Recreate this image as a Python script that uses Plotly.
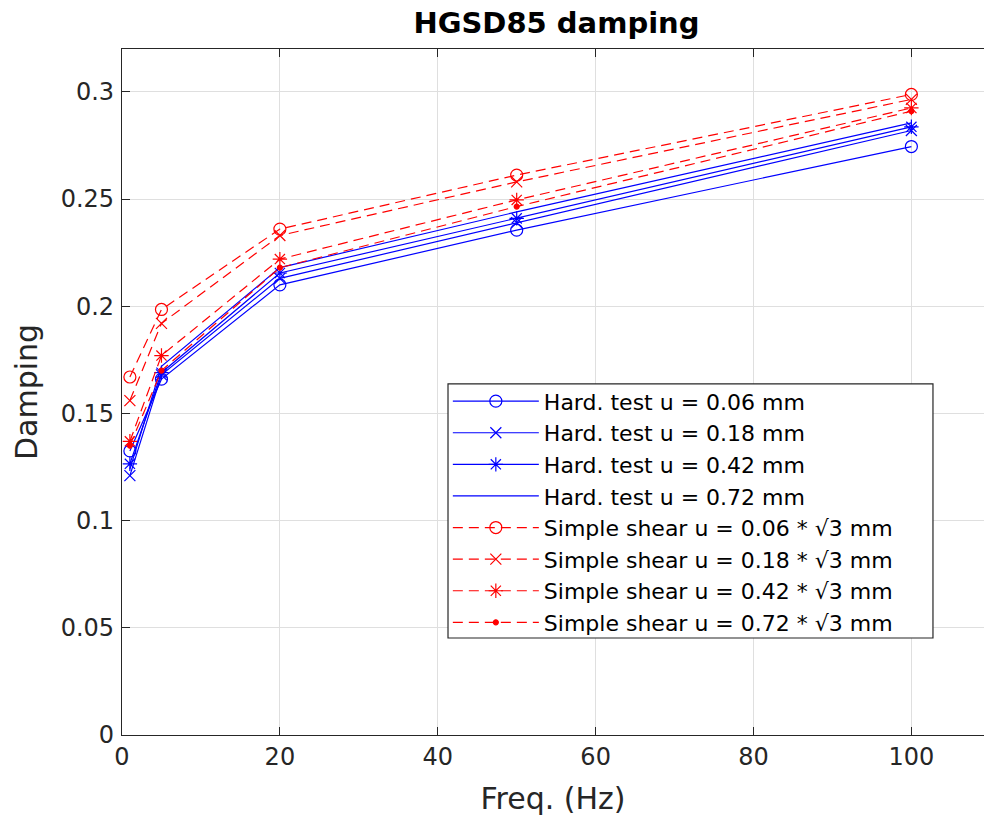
import plotly.graph_objects as go

# Excitation frequencies (Hz)
freq = [1, 5, 20, 50, 100]

# Hardening-test damping, one series per displacement amplitude
hard_006 = [0.1325, 0.166, 0.210, 0.2355, 0.2745]
hard_018 = [0.121, 0.168, 0.213, 0.239, 0.282]
hard_042 = [0.1265, 0.169, 0.2155, 0.241, 0.2837]
hard_072 = [0.124, 0.172, 0.218, 0.244, 0.2855]

# Simple-shear damping, one series per displacement amplitude
shear_006 = [0.167, 0.1985, 0.236, 0.2612, 0.2988]
shear_018 = [0.156, 0.192, 0.233, 0.258, 0.2965]
shear_042 = [0.137, 0.177, 0.222, 0.2496, 0.2925]
shear_072 = [0.135, 0.170, 0.218, 0.2465, 0.291]

names_hard = ["Hard. test u = 0.06 mm", "Hard. test u = 0.18 mm",
              "Hard. test u = 0.42 mm", "Hard. test u = 0.72 mm"]
names_shear = ["Simple shear u = 0.06 * \u221a3 mm", "Simple shear u = 0.18 * \u221a3 mm",
               "Simple shear u = 0.42 * \u221a3 mm", "Simple shear u = 0.72 * \u221a3 mm"]

y_ticks = [0, 0.05, 0.1, 0.15, 0.2, 0.25, 0.3]
y_tick_text = ["0", "0.05", "0.1", "0.15", "0.2", "0.25", "0.3"]
x_ticks = [0, 20, 40, 60, 80, 100]

FONT = "DejaVu Sans"
AX = "#262626"
BLUE = "#0000ff"
RED = "#ff0000"

fig = go.Figure()

hard_symbols = [("circle-open", 12), ("x-thin-open", 11), ("asterisk-open", 12), (None, 0)]
for ys, name, (sym, sz) in zip([hard_006, hard_018, hard_042, hard_072], names_hard, hard_symbols):
    mode = "lines+markers" if sym else "lines"
    fig.add_trace(go.Scatter(
        x=freq, y=ys, name=name, mode=mode,
        line=dict(color=BLUE, width=1.2),
        marker=dict(symbol=sym or "circle", size=sz, color=BLUE,
                    line=dict(color=BLUE, width=1.2)),
    ))

shear_symbols = [("circle-open", 12), ("x-thin-open", 11), ("asterisk-open", 12), ("circle", 5)]
for ys, name, (sym, sz) in zip([shear_006, shear_018, shear_042, shear_072], names_shear, shear_symbols):
    fig.add_trace(go.Scatter(
        x=freq, y=ys, name=name, mode="lines+markers",
        line=dict(color=RED, width=1.2, dash="10px,6px"),
        marker=dict(symbol=sym, size=sz, color=RED,
                    line=dict(color=RED, width=1.2)),
    ))

# Legend frame drawn as a paper-anchored box behind the legend entries
fig.add_shape(
    type="rect", xref="paper", yref="paper",
    x0=0.3782, x1=0.9408, y0=0.1414, y1=0.5117,
    line=dict(color=AX, width=1.2), fillcolor="white", layer="above",
)

fig.update_layout(
    width=984, height=818,
    margin=dict(l=122, r=0, t=49, b=83),
    paper_bgcolor="white", plot_bgcolor="white",
    font=dict(family=FONT, size=24, color=AX),
    title=dict(text="<b>HGSD85 damping</b>", x=0.5655, xanchor="center",
               y=0.972, yanchor="middle", font=dict(size=29, color="black")),
    showlegend=True,
    legend=dict(
        x=0.378, y=0.517, xanchor="left", yanchor="top",
        bgcolor="rgba(0,0,0,0)", borderwidth=0,
        font=dict(family=FONT, size=22, color="black"),
        itemwidth=86, tracegroupgap=0,
    ),
)

fig.update_xaxes(
    range=[0, 109.2], tickvals=x_ticks,
    showline=True, linecolor=AX, linewidth=1.2, mirror="ticks",
    ticks="inside", ticklen=8, tickcolor=AX,
    showgrid=True, gridcolor="#dfdfdf", gridwidth=1, zeroline=False,
    tickfont=dict(size=24, color=AX),
    title=dict(text="Freq. (Hz)", font=dict(size=30, color=AX), standoff=18),
)
fig.update_yaxes(
    range=[0, 0.32], tickvals=y_ticks, ticktext=y_tick_text,
    showline=True, linecolor=AX, linewidth=1.2,
    ticks="inside", ticklen=8, tickcolor=AX, ticklabelstandoff=2,
    showgrid=True, gridcolor="#dfdfdf", gridwidth=1, zeroline=False,
    tickfont=dict(size=24, color=AX),
    title=dict(text="Damping", font=dict(size=30, color=AX), standoff=14),
)

fig.write_html("out.html")
